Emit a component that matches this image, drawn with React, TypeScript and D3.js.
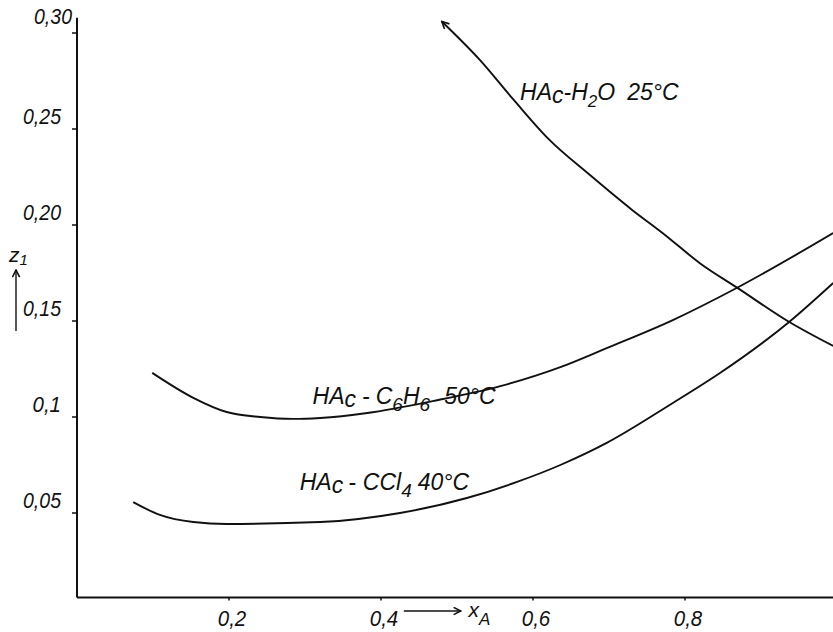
import React from 'react';
import { scaleLinear, line, curveMonotoneX } from 'd3';

// values
const X_TICKS = [0.2, 0.4, 0.6, 0.8];
const X_TICK_LABELS = ['0,2', '0,4', '0,6', '0,8'];
const Y_TICKS = [0.05, 0.1, 0.15, 0.2, 0.25, 0.3];
const Y_TICK_LABELS = ['0,05', '0,1', '0,15', '0,20', '0,25', '0,30'];

const H2O_X = [0.48, 0.53, 0.575, 0.62, 0.675, 0.73, 0.77, 0.82, 0.87, 0.935, 0.995];
const H2O_Z = [0.306, 0.286, 0.265, 0.245, 0.226, 0.208, 0.196, 0.18, 0.167, 0.15, 0.137];

const C6H6_X = [0.099, 0.153, 0.197, 0.241, 0.284, 0.32, 0.382, 0.468, 0.557, 0.636, 0.697, 0.784, 0.868, 0.995];
const C6H6_Z = [0.123, 0.11, 0.1026, 0.1, 0.099, 0.0995, 0.1021, 0.1083, 0.1161, 0.126, 0.1359, 0.1505, 0.1672, 0.1958];

const CCL4_X = [0.074, 0.109, 0.153, 0.197, 0.32, 0.425, 0.513, 0.579, 0.636, 0.697, 0.784, 0.846, 0.937, 0.995];
const CCL4_Z = [0.0557, 0.049, 0.0453, 0.0443, 0.0453, 0.05, 0.0578, 0.0662, 0.075, 0.0865, 0.1073, 0.1229, 0.1495, 0.1698];

const WIDTH = 833;
const HEIGHT = 632;
const INK = '#111';
const FONT = '"Liberation Sans", Arial, sans-serif';

const AXIS_BASE = 0.006; // where the x axis is drawn on the z scale
const AXIS_TOP = 0.308;

const xScale = scaleLinear().domain([0, 1]).range([77, 837]);
const yScale = scaleLinear().domain([0, 0.3]).range([609, 33]);

const zip = (xs: number[], zs: number[]) => xs.map((x, i) => [x, zs[i]] as [number, number]);

const curve = line<[number, number]>()
  .x((d) => xScale(d[0]))
  .y((d) => yScale(d[1]))
  .curve(curveMonotoneX);

const textStyle = { fontFamily: FONT, fontStyle: 'italic' as const, fill: INK };

// hand lettering is narrow: squeeze tick labels a bit
const tickLen = (s: string) => s.length * 9.5;

export default function App() {
  const x0 = xScale(0);
  const yBase = yScale(AXIS_BASE);

  return (
    <svg
      width={WIDTH}
      height={HEIGHT}
      style={{ position: 'absolute', left: 0, top: 0, background: '#fff' }}
    >
      <defs>
        <marker
          id="head"
          viewBox="0 0 10 10"
          refX="9"
          refY="5"
          markerWidth="9"
          markerHeight="9"
          markerUnits="userSpaceOnUse"
          orient="auto-start-reverse"
        >
          <path d="M1,1 L9,5 L1,9" fill="none" stroke={INK} strokeWidth="1.8" />
        </marker>
      </defs>

      {/* axes */}
      <line x1={x0} x2={WIDTH} y1={yBase} y2={yBase} stroke={INK} strokeWidth={2} />
      <line x1={x0} x2={x0} y1={yBase} y2={yScale(AXIS_TOP)} stroke={INK} strokeWidth={2} />

      {Y_TICKS.map((t, i) => (
        <g key={t}>
          <line x1={x0 - 5} x2={x0} y1={yScale(t)} y2={yScale(t)} stroke={INK} strokeWidth={1.5} />
          <text
            x={i === Y_TICKS.length - 1 ? 72 : 61}
            y={yScale(t) - (i === Y_TICKS.length - 1 ? 9 : 5)}
            textAnchor="end"
            fontSize={22}
            textLength={tickLen(Y_TICK_LABELS[i])}
            lengthAdjust="spacingAndGlyphs"
            style={textStyle}
          >
            {Y_TICK_LABELS[i]}
          </text>
        </g>
      ))}

      {X_TICKS.map((t, i) => (
        <g key={t}>
          <line x1={xScale(t)} x2={xScale(t)} y1={yBase} y2={yBase + 3} stroke={INK} strokeWidth={1.5} />
          <text
            x={xScale(t) + 3}
            y={626}
            textAnchor="middle"
            fontSize={22}
            textLength={tickLen(X_TICK_LABELS[i])}
            lengthAdjust="spacingAndGlyphs"
            style={textStyle}
          >
            {X_TICK_LABELS[i]}
          </text>
        </g>
      ))}

      {/* x axis label with arrow */}
      <line
        x1={xScale(0.43)}
        x2={xScale(0.505)}
        y1={611}
        y2={611}
        stroke={INK}
        strokeWidth={1.6}
        markerEnd="url(#head)"
      />
      <text x={xScale(0.515)} y={617} fontSize={21} style={textStyle}>
        x
        <tspan fontSize={17} dy={8}>A</tspan>
      </text>

      {/* y axis label with arrow */}
      <text x={9} y={262} fontSize={21} style={textStyle}>
        z
        <tspan fontSize={15} dy={3}>1</tspan>
      </text>
      <line x1={16} x2={16} y1={331} y2={270} stroke={INK} strokeWidth={1.4} markerEnd="url(#head)" />

      {/* curves */}
      <path d={curve(zip(H2O_X, H2O_Z)) ?? ''} fill="none" stroke={INK} strokeWidth={1.9} markerStart="url(#head)" />
      <path d={curve(zip(C6H6_X, C6H6_Z)) ?? ''} fill="none" stroke={INK} strokeWidth={1.9} />
      <path d={curve(zip(CCL4_X, CCL4_Z)) ?? ''} fill="none" stroke={INK} strokeWidth={1.9} />

      {/* curve labels */}
      <text x={xScale(0.583)} y={yScale(0.265)} fontSize={23} style={textStyle}>
        HA<tspan dy={3}>c</tspan>
        <tspan dy={-3}>-H</tspan>
        <tspan dy={7} fontSize={17}>2</tspan>
        <tspan dy={-7}>O</tspan>
        <tspan dx={12}>25°C</tspan>
      </text>
      <text x={xScale(0.31)} y={yScale(0.107)} fontSize={23} style={textStyle}>
        HA<tspan dy={3}>c</tspan>
        <tspan dy={-3} dx={6}>-</tspan>
        <tspan dx={6}>C</tspan>
        <tspan dy={7} fontSize={19}>6</tspan>
        <tspan dy={-7}>H</tspan>
        <tspan dy={7} fontSize={19}>6</tspan>
        <tspan dy={-7} dx={14}>50°C</tspan>
      </text>
      <text x={xScale(0.293)} y={yScale(0.062)} fontSize={23} style={textStyle}>
        HA<tspan dy={3}>c</tspan>
        <tspan dy={-3} dx={5}>-</tspan>
        <tspan dx={7}>CCl</tspan>
        <tspan dy={7} fontSize={19}>4</tspan>
        <tspan dy={-7} dx={6}>40°C</tspan>
      </text>
    </svg>
  );
}
